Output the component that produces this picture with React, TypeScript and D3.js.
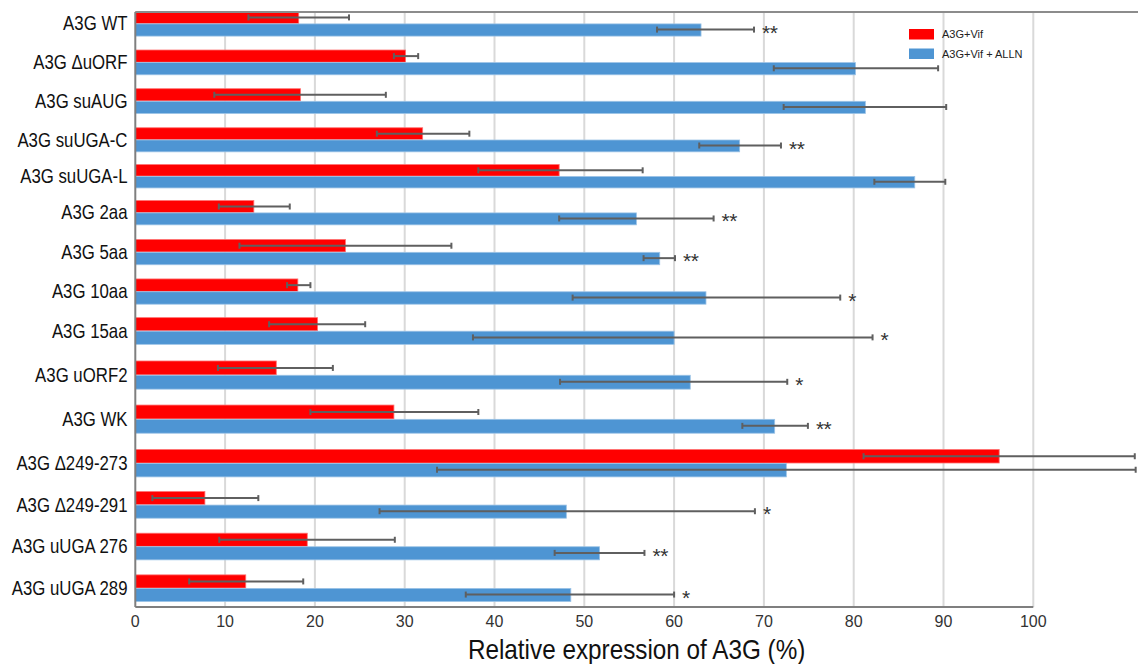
import React from "react";
import * as d3 from "d3";

const categories = [
  "A3G WT", "A3G ΔuORF", "A3G suAUG", "A3G suUGA-C", "A3G suUGA-L",
  "A3G 2aa", "A3G 5aa", "A3G 10aa", "A3G 15aa", "A3G uORF2",
  "A3G WK", "A3G Δ249-273", "A3G Δ249-291", "A3G uUGA 276", "A3G uUGA 289",
];
const seriesNames = ["A3G+Vif", "A3G+Vif + ALLN"];
const vifValues = [18.2, 30.1, 18.4, 32.0, 47.2, 13.2, 23.4, 18.1, 20.3, 15.7, 28.8, 96.2, 7.75, 19.15, 12.3];
const vifLow = [12.6, 28.8, 8.8, 26.9, 38.2, 9.3, 11.6, 16.9, 14.9, 9.2, 19.5, 81.1, 1.9, 9.35, 6.0];
const vifHigh = [23.8, 31.5, 27.9, 37.2, 56.5, 17.2, 35.2, 19.5, 25.6, 22.0, 38.2, 111.3, 13.7, 28.9, 18.7];
const allnValues = [63.0, 80.2, 81.3, 67.3, 86.8, 55.8, 58.4, 63.55, 60.0, 61.8, 71.2, 72.5, 48.0, 51.7, 48.5];
const allnLow = [58.1, 71.1, 72.2, 62.8, 82.3, 47.2, 56.6, 48.7, 37.6, 47.3, 67.6, 33.6, 27.2, 46.7, 36.8];
const allnHigh = [68.9, 89.4, 90.3, 71.9, 90.2, 64.4, 60.1, 78.5, 82.1, 72.6, 74.9, 111.4, 69.0, 56.7, 60.0];
const significance = ["**", "", "", "**", "", "**", "**", "*", "*", "*", "**", "", "*", "**", "*"];
const xTicks = [0, 10, 20, 30, 40, 50, 60, 70, 80, 90, 100];
const xTitle = "Relative expression of A3G (%)";

const W = 1138;
const H = 664;
const FONT = "'Liberation Sans', Arial, sans-serif";
const RED = "#ff0000";
const BLUE = "#4e95d3";

export default function App() {
  const x = d3.scaleLinear().domain([0, 100]).range([135.3, 1033.3]);
  const plotTop = 12;
  const plotBottom = 607;
  const plotRight = 1138;
  // row centre positions (the figure is unevenly stretched vertically)
  const yc = d3.scaleLinear()
    .domain([0, 3, 5, 8, 11, 14])
    .range([23.5, 139.6, 212.5, 330.8, 463, 588]);
  const step = (i: number) => (yc(i + 1) - yc(i - 1)) / 2;
  const barH = (i: number) => step(i) * 0.315;
  const x0 = x(0);

  const errBar = (lo: number, hi: number, y: number, key: string) => {
    const a = x(lo);
    const b = Math.min(x(hi), plotRight - 2);
    return (
      <g key={key} stroke="#5f5f5f" strokeWidth={2}>
        <line x1={a} x2={b} y1={y} y2={y} />
        <line x1={a} x2={a} y1={y - 3} y2={y + 3} />
        <line x1={b} x2={b} y1={y - 3} y2={y + 3} />
      </g>
    );
  };

  return (
    <svg width={W} height={H} style={{ position: "fixed", left: 0, top: 0, background: "#fff" }} fontFamily={FONT}>
      <rect x={0} y={0} width={W} height={H} fill="#fff" />
      {/* gridlines */}
      {xTicks.slice(1).map((t) => (
        <line key={"g" + t} x1={x(t)} x2={x(t)} y1={plotTop} y2={plotBottom} stroke="#d9d9d9" strokeWidth={2} />
      ))}
      {/* bars */}
      {categories.map((c, i) => {
        const cy = yc(i);
        const h = barH(i);
        return (
          <g key={c}>
            <rect x={x0} y={Math.max(cy - h, plotTop)} width={x(vifValues[i]) - x0} height={cy - Math.max(cy - h, plotTop)}
              fill={RED} stroke="#ff7070" strokeWidth={0.8} />
            <rect x={x0} y={cy + 0.4} width={x(allnValues[i]) - x0} height={h}
              fill={BLUE} stroke="#9cc3e6" strokeWidth={0.8} />
          </g>
        );
      })}
      {/* error bars */}
      {categories.map((c, i) => {
        const cy = yc(i);
        const h = barH(i);
        return (
          <g key={"e" + c}>
            {errBar(vifLow[i], vifHigh[i], Math.max(cy - h / 2, plotTop + 5), "ev" + i)}
            {errBar(allnLow[i], allnHigh[i], cy + h / 2, "ea" + i)}
          </g>
        );
      })}
      {/* significance stars */}
      {categories.map((c, i) =>
        significance[i] ? (
          <text key={"s" + c} x={x(allnHigh[i]) + 8} y={yc(i) + barH(i) / 2 + 10} fontSize={21}
            fill="#333" letterSpacing={-0.5}>{significance[i]}</text>
        ) : null
      )}
      {/* axes */}
      <line x1={x0} x2={plotRight} y1={plotTop} y2={plotTop} stroke="#8c8c8c" strokeWidth={2} />
      <line x1={x0} x2={x0} y1={plotTop} y2={plotBottom} stroke="#7f7f7f" strokeWidth={2} />
      <line x1={x0} x2={x(100)} y1={plotBottom} y2={plotBottom} stroke="#7f7f7f" strokeWidth={2} />
      {xTicks.map((t) => (
        <text key={"t" + t} x={x(t)} y={627} fontSize={16} textAnchor="middle" fill="#333">{t}</text>
      ))}
      {/* category labels */}
      {categories.map((c, i) => (
        <g key={"l" + c} transform={`translate(127.5, ${yc(i)}) scale(1, 1.15)`}>
          <text x={0} y={6} fontSize={16.8} textAnchor="end" fill="#111">{c}</text>
        </g>
      ))}
      {/* axis title */}
      <g transform={`translate(${(x0 + plotRight) / 2}, 659) scale(1, 1.15)`}>
        <text x={0} y={0} fontSize={24.3} textAnchor="middle" fill="#111">{xTitle}</text>
      </g>
      {/* legend */}
      {seriesNames.map((s, k) => (
        <g key={"lg" + s} transform={`translate(909, ${29 + k * 19.5})`}>
          <rect x={0} y={0} width={25} height={10.5} fill={k === 0 ? RED : BLUE} />
          <text x={33} y={9} fontSize={11} fill="#222">{s}</text>
        </g>
      ))}
    </svg>
  );
}
